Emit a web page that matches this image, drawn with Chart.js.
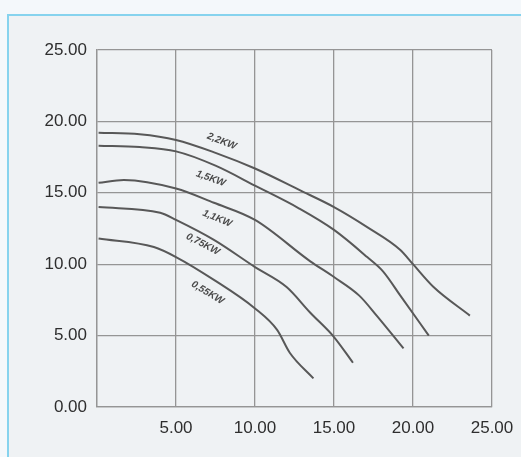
<!DOCTYPE html>
<html>
<head>
<meta charset="utf-8">
<script src="https://cdn.jsdelivr.net/npm/chart.js@4.4.0/dist/chart.umd.min.js"></script>
<style>
  html, body { margin: 0; padding: 0; }
  body { width: 521px; height: 457px; position: relative; overflow: hidden; background: #f4f8fb; }
  #frame { position: absolute; left: 7px; top: 14px; right: 0; bottom: 0;
           border-left: 2px solid #86d3ee; border-top: 2px solid #86d3ee; background: #eff2f4; }
  #wrap { position: absolute; left: 0; top: 0; width: 521px; height: 457px; }
</style>
</head>
<body>
<div id="frame"></div>
<div id="wrap"><canvas id="myChart" width="521" height="457"></canvas></div>
<script>
// flow (x) and head (y)
const x22 = [0.1, 2.7, 5.0, 7.5, 10.0, 12.8, 15.0, 17.1, 19.2, 20.0, 21.3, 23.6];
const y22 = [19.2, 19.1, 18.7, 17.8, 16.7, 15.2, 14.0, 12.6, 11.0, 10.0, 8.4, 6.4];
const x15 = [0.1, 2.7, 5.0, 7.5, 10.0, 12.8, 15.0, 17.1, 18.1, 19.2, 21.0];
const y15 = [18.3, 18.2, 17.9, 16.9, 15.5, 13.9, 12.4, 10.5, 9.5, 7.8, 5.0];
const x11 = [0.1, 1.7, 5.0, 7.4, 10.0, 13.5, 15.0, 16.6, 17.7, 19.4];
const y11 = [15.7, 15.9, 15.3, 14.3, 13.1, 10.2, 9.1, 7.8, 6.4, 4.1];
const x075 = [0.1, 4.0, 5.0, 7.4, 10.0, 12.0, 13.5, 15.0, 16.2];
const y075 = [14.0, 13.6, 13.1, 11.7, 9.8, 8.4, 6.6, 4.9, 3.1];
const x055 = [0.1, 3.6, 5.0, 7.4, 10.0, 11.4, 12.2, 13.7];
const y055 = [11.8, 11.2, 10.5, 8.9, 6.9, 5.4, 3.8, 2.0];

const seriesNames = ['2,2KW', '1,5KW', '1,1KW', '0,75KW', '0,55KW'];
const labelX = [7.9, 7.2, 7.6, 6.7, 7.0];
const labelY = [18.6, 16.0, 13.2, 11.4, 8.0];

const xTicks = [0, 5, 10, 15, 20, 25];
const yTicks = [0, 5, 10, 15, 20, 25];

const allX = [x22, x15, x11, x075, x055];
const allY = [y22, y15, y11, y075, y055];

const datasets = seriesNames.map((name, i) => ({
  label: name,
  data: allX[i].map((x, j) => ({x: x, y: allY[i][j]})),
  showLine: true,
  borderColor: '#585858',
  borderWidth: 2,
  pointRadius: 0,
  cubicInterpolationMode: 'monotone'
}));

// draws the kW names along the curves, angle follows the curve slope
const curveLabels = {
  id: 'curveLabels',
  afterDatasetsDraw(chart) {
    const c = chart.ctx;
    const xs = chart.scales.x, ys = chart.scales.y;
    c.save();
    c.fillStyle = '#4a4a4a';
    c.font = 'italic bold 10px "Liberation Sans", Arial, sans-serif';
    c.textAlign = 'center';
    c.textBaseline = 'middle';
    seriesNames.forEach((name, i) => {
      const xa = allX[i], ya = allY[i];
      let k = 0;
      while (k < xa.length - 2 && xa[k + 1] < labelX[i]) k++;
      const dx = xs.getPixelForValue(xa[k + 1]) - xs.getPixelForValue(xa[k]);
      const dy = ys.getPixelForValue(ya[k + 1]) - ys.getPixelForValue(ya[k]);
      const ang = Math.atan2(dy, dx);
      c.save();
      c.translate(xs.getPixelForValue(labelX[i]), ys.getPixelForValue(labelY[i]));
      c.rotate(ang);
      c.fillText(name, 0, 0);
      c.restore();
    });
    c.restore();
  }
};

const ctx = document.getElementById('myChart').getContext('2d');
const myChart = new Chart(ctx, {
  type: 'scatter',
  data: { datasets: datasets },
  plugins: [curveLabels],
  options: {
    responsive: false,
    animation: false,
    layout: { padding: { left: 0, top: 50, right: 29, bottom: 0 } },
    plugins: { legend: { display: false }, tooltip: { enabled: false } },
    scales: {
      x: {
        type: 'linear', min: 0, max: 25,
        afterBuildTicks: s => { s.ticks = xTicks.map(v => ({value: v})); },
        afterFit: s => { s.height = 50; s.paddingLeft = 0; s.paddingRight = 0; },
        grid: { color: '#959595', lineWidth: 1.3, drawTicks: false },
        border: { color: '#959595', width: 1.3 },
        ticks: {
          padding: 11,
          color: '#2e2e2e',
          font: { size: 17, family: '"Liberation Sans", Arial, sans-serif' },
          callback: v => v === 0 ? '' : v.toFixed(2)
        }
      },
      y: {
        type: 'linear', min: 0, max: 25,
        afterBuildTicks: s => { s.ticks = yTicks.map(v => ({value: v})); },
        afterFit: s => { s.width = 97; s.paddingTop = 0; s.paddingBottom = 0; },
        grid: { color: '#959595', lineWidth: 1.3, drawTicks: false },
        border: { color: '#959595', width: 1.3 },
        ticks: {
          padding: 10,
          color: '#2e2e2e',
          font: { size: 17, family: '"Liberation Sans", Arial, sans-serif' },
          callback: v => v.toFixed(2)
        }
      }
    }
  }
});
</script>
</body>
</html>
